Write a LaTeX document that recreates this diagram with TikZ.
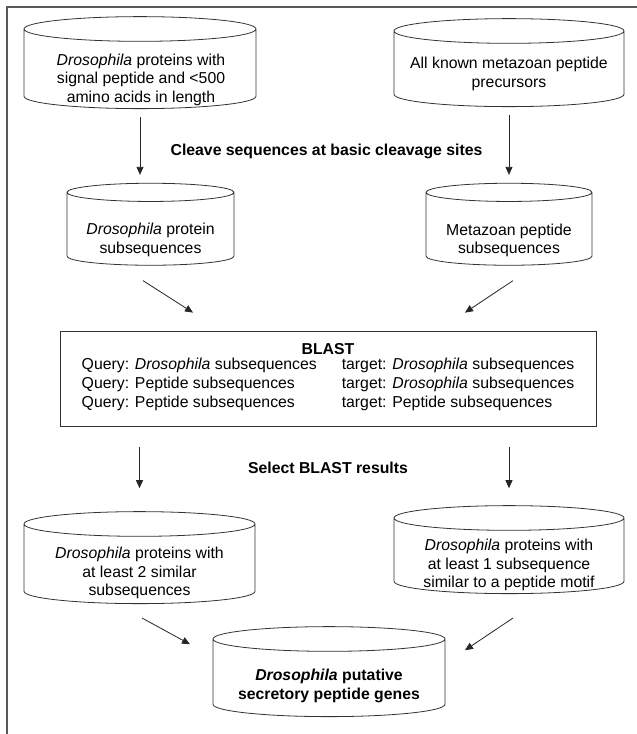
\documentclass[tikz,border=0pt]{standalone}
\usepackage{fontspec}
\setmainfont{Liberation Sans}
\usetikzlibrary{shapes.geometric,arrows.meta}
\tikzset{
  db/.style={cylinder, shape border rotate=90, aspect=0.13, draw=black!80, line width=0.8pt,
    inner sep=0pt, text width=190pt},
  dbtext/.style={align=center, inner sep=0pt, font=\fontsize{15.8}{18.5}\selectfont},
  arr/.style={-{Triangle[length=8pt,width=7pt]}, line width=0.8pt, draw=black!85},
  lbl/.style={font=\fontsize{15.8}{19}\selectfont\bfseries}
}
\begin{document}
\begin{tikzpicture}[x=1pt,y=-1pt]
\useasboundingbox (0,0) rectangle (637,734);
% Drawing frame
\draw [line width=1.6pt, black!65] (7,740) -- (7,7) -- (640,7);%

% Drawing databases
\node [db, minimum width=232pt, minimum height=92pt] (c1) at (140,69) {};
\node [dbtext] (c1t) at (141,79.5)
  {\textit{Drosophila} proteins with\\signal peptide and <500\\amino acids in length};
\node [db, minimum width=230pt, minimum height=88pt] (c2) at (509,69) {};
\node [dbtext] (c2t) at (509,74) {All known metazoan peptide\\precursors};
\node [db, text width=140pt, minimum width=167pt, minimum height=82pt] (c3) at (150.5,229) {};
\node [dbtext] (c3t) at (150.5,240) {\textit{Drosophila} protein\\subsequences};
\node [db, text width=140pt, minimum width=166pt, minimum height=82pt] (c4) at (509,229) {};
\node [dbtext] (c4t) at (509,240.5) {Metazoan peptide\\subsequences};

% Drawing BLAST box
\node [draw=black!80, line width=0.8pt, minimum width=536pt, minimum height=95pt,
  align=center, font=\fontsize{15.8}{19}\selectfont] (blast) at (328,378.5)
  {\textbf{BLAST}\\
   \begin{tabular}{@{}l@{\hspace{25pt}}l@{}}
   Query: \textit{Drosophila} subsequences & target: \textit{Drosophila} subsequences\\
   Query: Peptide subsequences & target: \textit{Drosophila} subsequences\\
   Query: Peptide subsequences & target: Peptide subsequences
   \end{tabular}};

\node [db, minimum width=231pt, minimum height=92pt] (c5) at (139.5,564) {};
\node [dbtext] (c5t) at (139.5,573)
  {\textit{Drosophila} proteins with\\at least 2 similar\\subsequences};
\node [db, minimum width=230pt, minimum height=88pt] (c6) at (509,556) {};
\node [dbtext] (c6t) at (509,565)
  {\textit{Drosophila} proteins with\\at least 1 subsequence\\similar to a peptide motif};
\node [db, minimum width=232pt, minimum height=90pt] (c7) at (329,678) {};
\node [dbtext, font=\fontsize{15.8}{19}\selectfont\bfseries] (c7t) at (329,686)
  {\textit{Drosophila} putative\\secretory peptide genes};

% Marking step labels
\node [lbl] (cleave) at (326.5,151) {Cleave sequences at basic cleavage sites};
\node [lbl] (select) at (328,468) {Select BLAST results};

% Drawing arrows
\draw [arr, shorten <=8pt, shorten >=8pt] (c1.south) -- (c1.south |- c3.north);
\draw [arr, shorten <=8pt, shorten >=8pt] (c2.south) -- (c2.south |- c4.north);
\draw [arr] ([xshift=-7.5pt,yshift=-15pt]c3.south) -- ([xshift=-135pt,yshift=18pt]blast.north);
\draw [arr] ([xshift=4pt,yshift=-15pt]c4.south) -- ([xshift=137pt,yshift=18pt]blast.north);
\draw [arr, shorten <=21pt, shorten >=23pt] (c5.north |- blast.south) -- (c5.north);
\draw [arr, shorten <=21pt, shorten >=17pt] (c6.north |- blast.south) -- (c6.north);
\draw [arr] ([xshift=2.5pt,yshift=-14pt]c5.south) -- ([xshift=-139pt,yshift=-18pt]c7.north);
\draw [arr] ([xshift=4pt,yshift=-24pt]c6.south) -- ([xshift=136pt,yshift=-24pt]c7.north);
\end{tikzpicture}
\end{document}
